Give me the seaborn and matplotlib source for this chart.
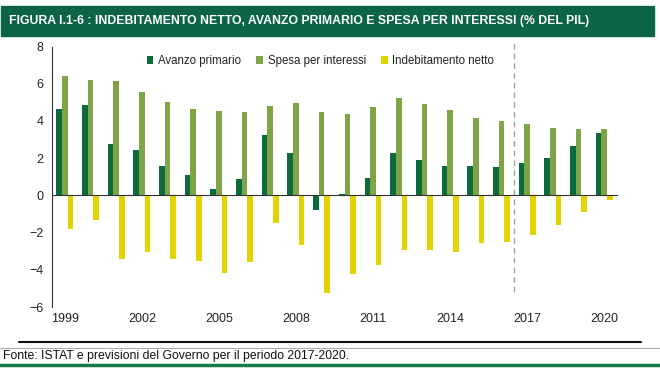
import numpy as np
import pandas as pd
import matplotlib
matplotlib.use('Agg')
import matplotlib.pyplot as plt
import seaborn as sns

# Dati (% del PIL)
anni = list(range(1999, 2021))
avanzo_primario = [4.66, 4.86, 2.74, 2.44, 1.57, 1.08, 0.32, 0.88, 3.23, 2.26, -0.81,
                   0.07, 0.96, 2.26, 1.88, 1.57, 1.57, 1.52, 1.75, 2.00, 2.67, 3.36]
spesa_interessi = [6.44, 6.21, 6.14, 5.54, 5.04, 4.66, 4.55, 4.48, 4.78, 4.96, 4.48,
                   4.35, 4.73, 5.22, 4.91, 4.60, 4.17, 3.99, 3.86, 3.61, 3.56, 3.56]
indebitamento = [-1.83, -1.31, -3.42, -3.06, -3.42, -3.54, -4.15, -3.60, -1.51, -2.68, -5.27,
                 -4.23, -3.72, -2.93, -2.93, -3.06, -2.55, -2.50, -2.12, -1.58, -0.90, -0.23]
serie = ['Avanzo primario', 'Spesa per interessi', 'Indebitamento netto']
colori = ['#0B6B3A', '#7FA347', '#E2D400']
anno_previsioni = 2017
etichette_x = [str(a) for a in anni[::3]]

df = pd.DataFrame({'Anno': [str(a) for a in anni],
                   serie[0]: avanzo_primario,
                   serie[1]: spesa_interessi,
                   serie[2]: indebitamento})
df_long = df.melt(id_vars='Anno', var_name='Serie', value_name='Valore')

sns.set_style('white')
plt.rcParams['font.family'] = ['Liberation Sans', 'DejaVu Sans']

fig = plt.figure(figsize=(6.6, 3.71), dpi=100)
ax = fig.add_axes([0.0788, 0.1725, 0.856, 0.702])

sns.barplot(data=df_long, x='Anno', y='Valore', hue='Serie', hue_order=serie,
            palette=colori, width=0.66, saturation=1, linewidth=0, ax=ax)

ax.set_xlim(-0.5, len(anni) - 0.5)
ax.set_ylim(-6, 8)
ax.set_yticks(np.arange(-6, 9, 2))
ax.set_xlabel('')
ax.set_ylabel('')

# asse x sullo zero con tacche tra gli anni
for s in ['top', 'right']:
    ax.spines[s].set_visible(False)
ax.spines['bottom'].set_position(('data', 0))
ax.spines['bottom'].set_color('#333333')
ax.spines['left'].set_color('#333333')
ax.set_xticks(np.arange(-0.5, len(anni), 1))
ax.tick_params(axis='x', length=3, color='#333333', labelbottom=False)
ax.tick_params(axis='y', length=4, color='#333333', labelsize=9, labelcolor='#222222', pad=2)

sec = ax.secondary_xaxis(0)
sec.set_xticks(np.arange(0, len(anni), 3), etichette_x)
sec.tick_params(length=0, labelsize=9, labelcolor='#222222', pad=4)
sec.spines['bottom'].set_visible(False)

# linea tratteggiata inizio previsioni
x_prev = anni.index(anno_previsioni) - 0.5
ax.plot([x_prev, x_prev], [-5.2, 8.2], ls=(0, (4, 3)), color='#A0A0A0', lw=1, clip_on=False)

handles, labels = ax.get_legend_handles_labels()
ax.legend(handles, labels, ncol=3, loc='center', bbox_to_anchor=(0.475, 0.944),
          frameon=False, fontsize=8.3, handlelength=0.6, handleheight=0.6,
          handletextpad=0.4, columnspacing=1.3, labelcolor='#222222')

# intestazione e note
fig.patches.append(plt.Rectangle((0.0015, 0.903), 0.989, 0.081, transform=fig.transFigure,
                                 color='#0B6446', zorder=0))
fig.text(0.014, 0.944, 'FIGURA I.1-6 : INDEBITAMENTO NETTO, AVANZO PRIMARIO E SPESA PER INTERESSI (% DEL PIL)',
         color='white', fontsize=8.8, fontweight='bold', va='center', ha='left')
fig.add_artist(plt.Line2D([0.029, 0.971], [0.078, 0.078], color='#111111', lw=1.5))
fig.add_artist(plt.Line2D([0.0, 1.0], [0.061, 0.061], color='#999999', lw=0.6))
fig.text(0.005, 0.040, 'Fonte: ISTAT e previsioni del Governo per il periodo 2017-2020.',
         fontsize=8.8, va='center', ha='left', color='#111111')
fig.add_artist(plt.Line2D([0.0, 1.0], [0.016, 0.016], color='#1A7A45', lw=2.5))

fig.savefig('out.png', dpi=100)
